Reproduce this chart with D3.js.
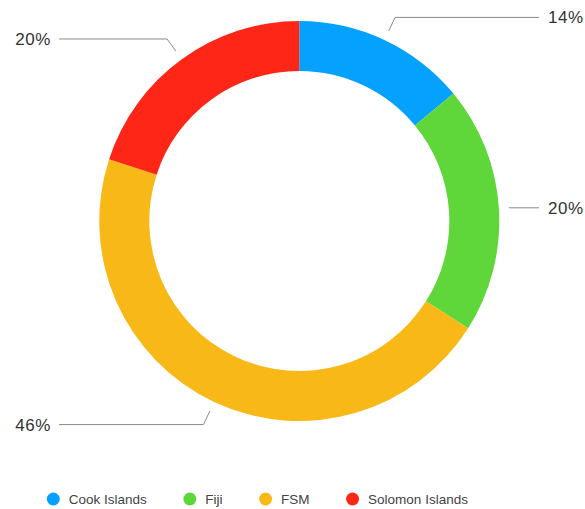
<!DOCTYPE html>
<html>
<head>
<meta charset="utf-8">
<script src="https://cdn.jsdelivr.net/npm/d3@7"></script>
<style>
  html, body { margin: 0; padding: 0; background: #fff; }
  svg { display: block; font-family: "Liberation Sans", Arial, Helvetica, sans-serif; }
</style>
</head>
<body>
<svg id="chart" width="585" height="509"></svg>
<script>
// Share of entries by country
const categories = ["Cook Islands", "Fiji", "FSM", "Solomon Islands"];
const values = [14, 20, 46, 20];
const colors = ["#04a2fe", "#5fd63a", "#f8b818", "#fe2717"];

const width = 585, height = 509;
const cx = 299.3, cy = 221;
const outerR = 200, innerR = 150;

const svg = d3.select("#chart");
const g = svg.append("g").attr("transform", `translate(${cx},${cy})`);

const data = categories.map((c, i) => ({ name: c, value: values[i], color: colors[i] }));

const pie = d3.pie().value(d => d.value).sort(null);
const arcs = pie(data);

const arc = d3.arc().innerRadius(innerR).outerRadius(outerR);

g.selectAll("path.slice")
  .data(arcs)
  .join("path")
  .attr("class", "slice")
  .attr("d", arc)
  .attr("fill", d => d.data.color);

// Leader lines and percentage labels
const total = d3.sum(values);
const leftEnd = 59 - cx, rightEnd = 539 - cx;
const pt = (a, r) => [r * Math.sin(a), -r * Math.cos(a)];

arcs.forEach(d => {
  const mid = (d.startAngle + d.endAngle) / 2;
  const right = Math.sin(mid) >= 0;
  const p0 = pt(mid, 210);
  let p1 = pt(mid, 225);
  // nearly horizontal leaders stay flat
  if (Math.abs(Math.cos(mid)) < 0.15) p1 = [p1[0], p0[1]];
  const p2 = [right ? rightEnd : leftEnd, p1[1]];

  g.append("polyline")
    .attr("points", [p0, p1, p2].map(p => p.join(",")).join(" "))
    .attr("fill", "none")
    .attr("stroke", "#8a8a8a")
    .attr("stroke-width", 1);

  g.append("text")
    .attr("x", right ? p2[0] + 9 : p2[0] - 8)
    .attr("y", p2[1])
    .attr("dy", "0.35em")
    .attr("text-anchor", right ? "start" : "end")
    .attr("font-size", 17)
    .attr("letter-spacing", 0.6)
    .attr("fill", "#333")
    .text(Math.round(d.data.value / total * 100) + "%");
});

// Legend
const legend = svg.append("g").attr("transform", "translate(0,499)");
let x = 53.3;
data.forEach(d => {
  const item = legend.append("g").attr("transform", `translate(${x},0)`);
  item.append("circle").attr("r", 6.5).attr("fill", d.color);
  const t = item.append("text")
    .attr("x", 15.5)
    .attr("dy", "0.35em")
    .attr("font-size", 13.5)
    .attr("fill", "#444")
    .text(d.name);
  x += 15.5 + t.node().getComputedTextLength() + 43;
});
</script>
</body>
</html>
